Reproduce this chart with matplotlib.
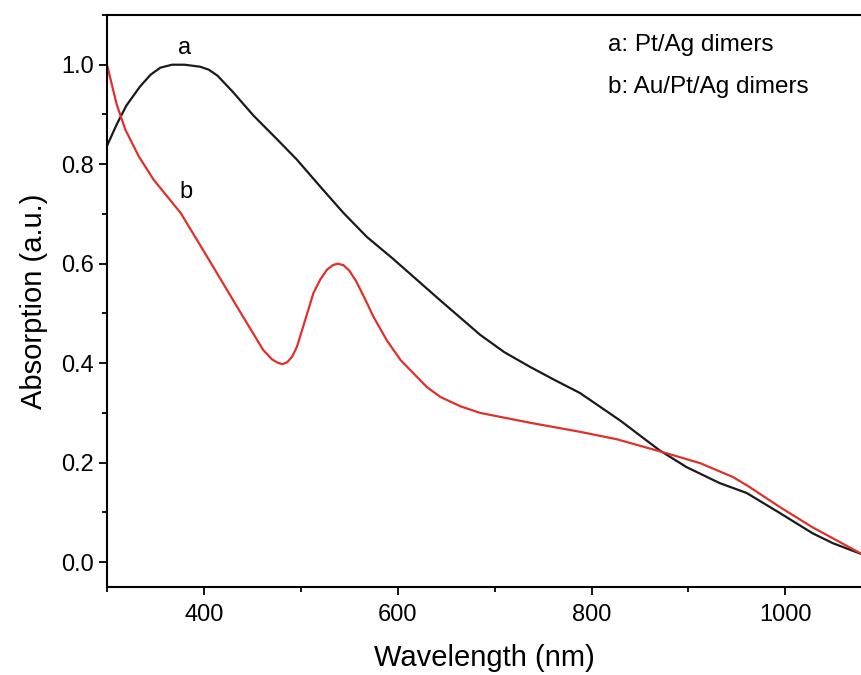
import matplotlib.pyplot as plt
from matplotlib.ticker import MultipleLocator

plt.rcParams['font.family'] = ['Liberation Sans', 'DejaVu Sans']

# curve a: Pt/Ag dimers
wl_a = [300, 310, 320, 334, 345, 355, 367, 380, 396, 405, 414, 430, 451, 476,
        496, 520, 544, 568, 595, 623, 644, 685, 710, 737, 762, 788, 809, 830,
        853, 870, 898, 932, 960, 994, 1028, 1049, 1080]
abs_a = [0.837, 0.880, 0.918, 0.956, 0.980, 0.994, 1.000, 1.000, 0.996, 0.990,
         0.978, 0.945, 0.898, 0.849, 0.809, 0.755, 0.702, 0.654, 0.610, 0.562,
         0.526, 0.457, 0.422, 0.392, 0.366, 0.340, 0.312, 0.284, 0.250, 0.225,
         0.191, 0.159, 0.139, 0.099, 0.058, 0.038, 0.015]

# curve b: Au/Pt/Ag dimers
wl_b = [300, 305, 310, 319, 333, 348, 376, 407, 438, 461, 470, 476, 481, 486,
        491, 496, 505, 513, 520, 527, 533, 538, 544, 550, 557, 566, 575, 589,
        603, 616, 630, 644, 665, 685, 737, 788, 826, 870, 912, 946, 963, 994,
        1028, 1080]
abs_b = [1.000, 0.960, 0.920, 0.869, 0.815, 0.769, 0.702, 0.602, 0.501, 0.427,
         0.408, 0.401, 0.398, 0.402, 0.413, 0.433, 0.490, 0.541, 0.568, 0.588,
         0.597, 0.600, 0.597, 0.586, 0.565, 0.530, 0.493, 0.445, 0.406, 0.380,
         0.352, 0.332, 0.313, 0.300, 0.280, 0.262, 0.247, 0.223, 0.199, 0.171,
         0.151, 0.111, 0.070, 0.015]

fig = plt.figure(figsize=(8.61, 6.75), dpi=100)
ax = fig.add_axes([0.1243, 0.1304, 0.8757, 0.8474])

ax.plot(wl_a, abs_a, color='#1a1a1a', lw=1.6)
ax.plot(wl_b, abs_b, color='#e0302a', lw=1.6)

ax.text(380, 1.034, 'a', fontsize=17, ha='center', va='center')
ax.text(382, 0.744, 'b', fontsize=17, ha='center', va='center')
ax.text(817, 1.040, 'a: Pt/Ag dimers', fontsize=17.5, ha='left', va='center')
ax.text(817, 0.956, 'b: Au/Pt/Ag dimers', fontsize=17.5, ha='left', va='center')

ax.set_xlim(300, 1078)
ax.set_ylim(-0.05, 1.1)
ax.set_xticks([400, 600, 800, 1000])
ax.set_yticks([0.0, 0.2, 0.4, 0.6, 0.8, 1.0])
ax.xaxis.set_minor_locator(MultipleLocator(100))
ax.yaxis.set_minor_locator(MultipleLocator(0.1))
ax.tick_params(which='major', direction='out', length=6, width=1.3, labelsize=17)
ax.tick_params(axis='x', which='major', pad=6)
ax.tick_params(which='minor', direction='out', length=3.5, width=1.3)
ax.spines['right'].set_visible(False)
for s in ['left', 'bottom', 'top']:
    ax.spines[s].set_linewidth(1.5)

ax.set_xlabel('Wavelength (nm)', fontsize=21, labelpad=13)
ax.set_ylabel('Absorption (a.u.)', fontsize=21, labelpad=9)

fig.savefig('out.png', dpi=100)
